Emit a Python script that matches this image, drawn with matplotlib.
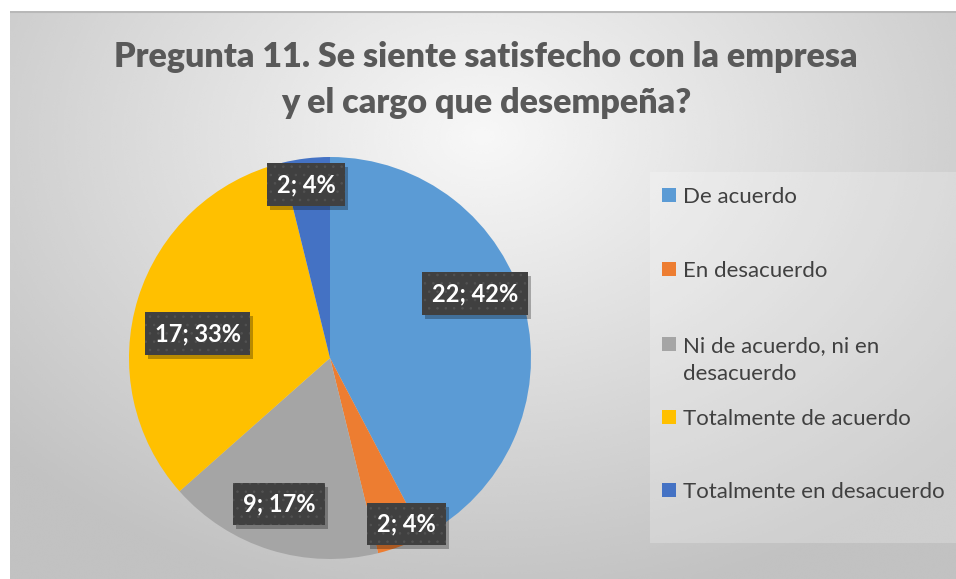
import matplotlib.pyplot as plt
from matplotlib.patches import Rectangle
from matplotlib.transforms import IdentityTransform
import numpy as np

# data
categories = ['De acuerdo', 'En desacuerdo', 'Ni de acuerdo, ni en\ndesacuerdo',
              'Totalmente de acuerdo', 'Totalmente en desacuerdo']
counts = [22, 2, 9, 17, 2]
colors = ['#5B9BD5', '#ED7D31', '#A5A5A5', '#FFC000', '#4472C4']
title = 'Pregunta 11. Se siente satisfecho con la empresa\ny el cargo que desempeña?'

# label placement (radius fraction, angle shift in degrees) for each slice
label_r = [0.79, 0.91, 0.77, 0.67, 0.87]
label_shift = [10, 4, -2, 7, 1]

plt.rcParams['hatch.linewidth'] = 0.6

W, H = 956, 579
fig = plt.figure(figsize=(W / 100, H / 100), dpi=100)
fig.patch.set_facecolor('white')

# gradient background of chart area
bg = fig.add_axes([10 / W, 0, (W - 10) / W, (H - 11) / H])
bg.set_axis_off()
yy, xx = np.mgrid[0:1:300j, 0:1:500j]
d = np.sqrt(((xx - 0.5) * 1.1) ** 2 + ((yy - 0.22) * 0.9) ** 2)
shade = np.clip(0.97 - 0.28 * d, 0.76, 0.97)
bg.imshow(shade, cmap='gray', vmin=0, vmax=1, aspect='auto',
          extent=[0, 1, 1, 0], interpolation='bicubic')
bg.set_xlim(0, 1)
bg.set_ylim(1, 0)
bg.axhline(0.002, color='#b8b8b8', lw=1.5)

fig.text(0.5 + 8 / W, 1 - 80 / H, title, ha='center', va='center',
         fontsize=24.5, fontweight='heavy', color='#595959',
         family=['Lato', 'DejaVu Sans'], linespacing=1.53)

# pie
cx, cy, R = 330, H - 358, 201
ax = fig.add_axes([(cx - R) / W, (cy - R) / H, 2 * R / W, 2 * R / H])
wedges, _ = ax.pie(counts, colors=colors, startangle=90, counterclock=False,
                   radius=1, wedgeprops=dict(linewidth=0, zorder=1))
ax.set_xlim(-1, 1)
ax.set_ylim(-1, 1)
ax.set_axis_off()

total = sum(counts)
labels = []
for w, n, r, s in zip(wedges, counts, label_r, label_shift):
    mid = np.deg2rad((w.theta1 + w.theta2) / 2 + s)
    pct = round(100 * n / total)
    t = ax.text(r * np.cos(mid), r * np.sin(mid), f'{n}; {pct}%', color='white',
                ha='center', va='center', fontsize=17, fontweight='bold',
                family=['Lato', 'DejaVu Sans'], zorder=5,
                bbox=dict(boxstyle='square,pad=0.42', facecolor='#404040',
                          edgecolor='#525252', hatch='..', linewidth=0))
    labels.append(t)

# drop shadows behind the label boxes
fig.canvas.draw()
for t in labels:
    bb = t.get_bbox_patch().get_window_extent()
    ax.add_patch(Rectangle((bb.x0 + 3, bb.y0 - 4), bb.width, bb.height,
                           transform=IdentityTransform(), facecolor='black',
                           alpha=0.28, linewidth=0, zorder=3, clip_on=False))

# legend
lg = fig.add_axes([650 / W, (H - 543) / H, (W - 650) / W, (543 - 172) / H])
lg.set_xlim(650, W)
lg.set_ylim(543, 172)
lg.set_axis_off()
lg.add_patch(Rectangle((650, 172), W - 650, 543 - 172, facecolor='white',
                       alpha=0.22, linewidth=0))
legend_base = [203, 277, 352, 425, 498]
for lab, c, b in zip(categories, colors, legend_base):
    lg.add_patch(Rectangle((662, b - 15), 14, 14, facecolor=c, linewidth=0))
    for i, line in enumerate(lab.split('\n')):
        lg.text(683, b + 28 * i, line, ha='left', va='baseline', fontsize=16,
                color='#404040', family=['Lato', 'DejaVu Sans'])

fig.savefig('out.png', dpi=100, facecolor='white')
